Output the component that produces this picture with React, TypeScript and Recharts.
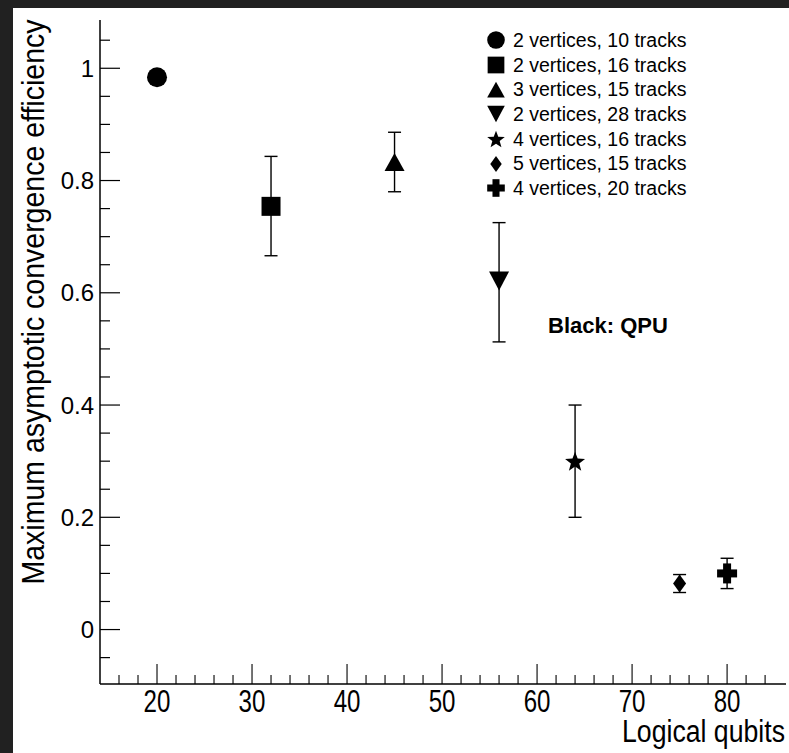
import React from "react";
import {
  ScatterChart,
  Scatter,
  XAxis,
  YAxis,
  ErrorBar,
} from "recharts";

// measured values, QPU runs
const qubits = [20, 32, 45, 56, 64, 75, 80];
const efficiency = [0.984, 0.754, 0.832, 0.621, 0.3, 0.082, 0.1];
const errLow = [0.984, 0.666, 0.78, 0.5125, 0.2, 0.066, 0.073];
const errHigh = [0.984, 0.843, 0.886, 0.725, 0.4, 0.098, 0.127];
const seriesNames = [
  "2 vertices, 10 tracks",
  "2 vertices, 16 tracks",
  "3 vertices, 15 tracks",
  "2 vertices, 28 tracks",
  "4 vertices, 16 tracks",
  "5 vertices, 15 tracks",
  "4 vertices, 20 tracks",
];
const markers = ["circle", "square", "triangleUp", "triangleDown", "star", "diamond", "plus"];

const xMajorTicks = [20, 30, 40, 50, 60, 70, 80];
const xMinorTicks = [16, 18, 22, 24, 26, 28, 32, 34, 36, 38, 42, 44, 46, 48, 52, 54, 56, 58, 62, 64, 66, 68, 72, 74, 76, 78, 82, 84];
const yMajorTicks = [0, 0.2, 0.4, 0.6, 0.8, 1];
const yMinorTicks = [-0.05, 0.05, 0.1, 0.15, 0.25, 0.3, 0.35, 0.45, 0.5, 0.55, 0.65, 0.7, 0.75, 0.85, 0.9, 0.95, 1.05];

const xTicks = [...xMajorTicks, ...xMinorTicks].sort((a, b) => a - b);
const yTicks = [...yMajorTicks, ...yMinorTicks].sort((a, b) => a - b);

const SANS = '"Liberation Sans", Arial, sans-serif';

function drawMarker(kind: string, cx: number, cy: number, s: number) {
  switch (kind) {
    case "circle":
      return <circle cx={cx} cy={cy} r={10 * s} fill="#000" />;
    case "square":
      return <rect x={cx - 9.5 * s} y={cy - 9.5 * s} width={19 * s} height={19 * s} fill="#000" />;
    case "triangleUp":
      return (
        <polygon
          points={`${cx},${cy - 9.5 * s} ${cx - 10 * s},${cy + 8.5 * s} ${cx + 10 * s},${cy + 8.5 * s}`}
          fill="#000"
        />
      );
    case "triangleDown":
      return (
        <polygon
          points={`${cx},${cy + 9.5 * s} ${cx - 10 * s},${cy - 9.5 * s} ${cx + 10 * s},${cy - 9.5 * s}`}
          fill="#000"
        />
      );
    case "star": {
      const pts: string[] = [];
      for (let i = 0; i < 10; i++) {
        const r = (i % 2 === 0 ? 10.5 : 4.4) * s;
        const a = -Math.PI / 2 + (i * Math.PI) / 5;
        pts.push(`${cx + r * Math.cos(a)},${cy + 1 * s + r * Math.sin(a)}`);
      }
      return <polygon points={pts.join(" ")} fill="#000" />;
    }
    case "diamond":
      return (
        <polygon
          points={`${cx},${cy - 9 * s} ${cx + 6.5 * s},${cy} ${cx},${cy + 9 * s} ${cx - 6.5 * s},${cy}`}
          fill="#000"
        />
      );
    case "plus":
      return (
        <g fill="#000">
          <rect x={cx - 10 * s} y={cy - 4 * s} width={20 * s} height={8 * s} />
          <rect x={cx - 4 * s} y={cy - 10 * s} width={8 * s} height={20 * s} />
        </g>
      );
    default:
      return null;
  }
}

function XTick(props: any) {
  const { x, y, payload } = props;
  const v = payload.value;
  const major = xMajorTicks.includes(v);
  const label = String(v);
  return (
    <g>
      <line x1={x} x2={x} y1={y} y2={y - (major ? 20 : 9)} stroke="#000" strokeWidth={1.1} />
      {major && (
        <text
          x={x}
          y={y + 28}
          textAnchor="middle"
          fontSize={31}
          fontFamily={SANS}
          fill="#000"
          textLength={label.length * 13.4}
          lengthAdjust="spacingAndGlyphs"
        >
          {label}
        </text>
      )}
    </g>
  );
}

function YTick(props: any) {
  const { x, y, payload } = props;
  const v = payload.value;
  const major = yMajorTicks.includes(v);
  const label = v === 0 || v === 1 ? String(v) : v.toFixed(1);
  return (
    <g>
      <line x1={x} x2={x + (major ? 20 : 10)} y1={y} y2={y} stroke="#000" strokeWidth={1.2} />
      {major && (
        <text x={x - 6} y={y + 8.5} textAnchor="end" fontSize={24} fontFamily={SANS} fill="#000">
          {label}
        </text>
      )}
    </g>
  );
}

const YTitle = () => {
  const cx = 44;
  const cy = 302;
  return (
    <text
      x={cx}
      y={cy}
      transform={`rotate(-90 ${cx} ${cy})`}
      textAnchor="middle"
      fontSize={31}
      fontFamily={SANS}
      fill="#000"
      textLength={565}
      lengthAdjust="spacingAndGlyphs"
    >
      Maximum asymptotic convergence efficiency
    </text>
  );
};

const XTitle = (props: any) => {
  const { viewBox } = props;
  return (
    <text
      x={viewBox.x + viewBox.width - 1}
      y={742}
      textAnchor="end"
      fontSize={31}
      fontFamily={SANS}
      fill="#000"
      textLength={163}
      lengthAdjust="spacingAndGlyphs"
    >
      Logical qubits
    </text>
  );
};

export default function App() {
  const series = qubits.map((q, i) => ({
    name: seriesNames[i],
    marker: markers[i],
    hasError: errHigh[i] > errLow[i],
    data: [
      {
        x: q,
        y: efficiency[i],
        err: [efficiency[i] - errLow[i], errHigh[i] - efficiency[i]],
      },
    ],
  }));

  return (
    <div style={{ position: "fixed", left: 0, top: 0, width: 789, height: 753, background: "#212121" }}>
      <div style={{ position: "absolute", left: 13, top: 8, right: 0, bottom: 0, background: "#fff" }} />
      <div style={{ position: "absolute", left: 0, top: 0 }}>
        <ScatterChart width={789} height={753} margin={{ top: 20, right: 3, left: 0, bottom: 0 }}>
          <XAxis
            type="number"
            dataKey="x"
            domain={[14, 86.2]}
            ticks={xTicks}
            interval={0}
            allowDataOverflow
            height={69}
            tickSize={0}
            tickMargin={0}
            tickLine={false}
            tick={<XTick />}
            axisLine={{ stroke: "#000", strokeWidth: 1.5 }}
            label={<XTitle />}
          />
          <XAxis
            xAxisId="top"
            orientation="top"
            type="number"
            domain={[14, 86.2]}
            height={0}
            tick={false}
            tickLine={false}
            axisLine={{ stroke: "#000", strokeWidth: 1.5 }}
          />
          <YAxis
            type="number"
            dataKey="y"
            domain={[-0.097, 1.086]}
            ticks={yTicks}
            interval={0}
            allowDataOverflow
            width={100}
            tickSize={0}
            tickMargin={0}
            tickLine={false}
            tick={<YTick />}
            axisLine={{ stroke: "#000", strokeWidth: 1.5 }}
            label={<YTitle />}
          />
          <YAxis
            yAxisId="right"
            orientation="right"
            type="number"
            domain={[-0.097, 1.086]}
            width={0}
            tick={false}
            tickLine={false}
            axisLine={{ stroke: "#000", strokeWidth: 1.5 }}
          />
          {series.map((s) => (
            <Scatter
              key={s.name}
              name={s.name}
              data={s.data}
              isAnimationActive={false}
              shape={(p: any) => drawMarker(s.marker, p.cx, p.cy, 1)}
            >
              {s.hasError && (
                <ErrorBar
                  dataKey="err"
                  direction="y"
                  width={6.5}
                  stroke="#000"
                  strokeWidth={1.4}
                  isAnimationActive={false}
                />
              )}
            </Scatter>
          ))}
        </ScatterChart>
      </div>
      <div style={{ position: "absolute", left: 485, top: 28, fontFamily: SANS, fontSize: 19.5, color: "#000" }}>
        {series.map((s) => (
          <div key={s.name} style={{ height: 24.7, display: "flex", alignItems: "center", whiteSpace: "nowrap" }}>
            <svg width={22} height={22} style={{ marginRight: 6 }}>
              {drawMarker(s.marker, 11, 11, 0.88)}
            </svg>
            <span>{s.name}</span>
          </div>
        ))}
      </div>
      <div
        style={{
          position: "absolute",
          left: 548,
          top: 313,
          fontFamily: SANS,
          fontWeight: "bold",
          fontSize: 22,
          color: "#000",
          whiteSpace: "nowrap",
        }}
      >
        Black: QPU
      </div>
    </div>
  );
}
